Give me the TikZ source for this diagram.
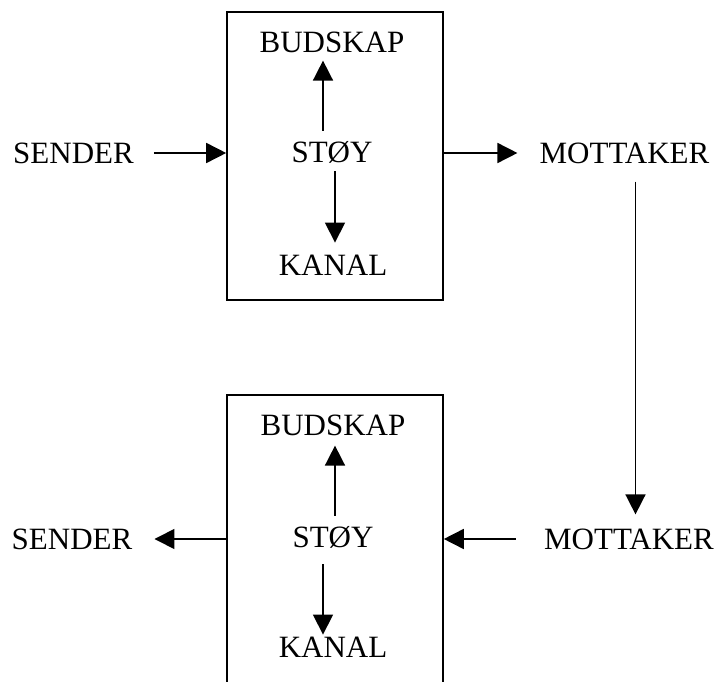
\documentclass[tikz,border=0pt]{standalone}
\usepackage{fontspec}
\setmainfont{Liberation Serif}
\usetikzlibrary{calc,arrows.meta}
\newcommand{\tekst}{\fontsize{31}{36}\selectfont}
\tikzset{
  pil/.style={-{Triangle[length=20pt,width=20pt]},line width=1.6pt},
  boks/.style={draw,line width=1.6pt,minimum width=216pt,minimum height=288pt,inner sep=0pt},
  ord/.style={inner sep=0pt,font=\tekst},
}

\begin{document}
\begin{tikzpicture}[x=1pt,y=-1pt]

    \useasboundingbox (0,0) rectangle (721,682);
    \clip (0,0) rectangle (721,682);

    \node[boks] (boksA) at (335,156) {};
    \node[ord] (budA) at (332,42) {BUDSKAP};
    \node[ord] (stoyA) at (332,152) {STØY};
    \node[ord] (kanA) at (333,265) {KANAL};
    \node[ord] (senderA) at (73.5,153) {SENDER};
    \node[ord] (motA) at (624.5,153) {MOTTAKER};

    \node[boks] (boksB) at (335,539) {};
    \node[ord] (budB) at (333,425) {BUDSKAP};
    \node[ord] (stoyB) at (333,537) {STØY};
    \node[ord] (kanB) at (333,647) {KANAL};
    \node[ord] (senderB) at (72,539) {SENDER};
    \node[ord] (motB) at (629,539) {MOTTAKER};

    \draw[pil,shorten <=20pt] (senderA.east) -- (senderA.east -| boksA.west);
    \draw[pil,shorten >=22pt] (boksA.east |- motA.west) -- (motA.west);
    \draw[pil,shorten <=10pt,shorten >=8pt] ([xshift=-9pt]stoyA.north) -- ([xshift=-9pt]stoyA.north |- budA.south);
    \draw[pil,shorten <=8pt,shorten >=12pt] ([xshift=3pt]stoyA.south) -- ([xshift=3pt]stoyA.south |- kanA.north);

    \draw[pil,shorten <=18pt,shorten >=14pt] ([xshift=11pt]motA.south) -- ([xshift=11pt]motA.south |- motB.north);

    \draw[pil,shorten <=28pt] (motB.west) -- (motB.west -| boksB.east);
    \draw[pil,shorten >=22pt] (boksB.west |- senderB.east) -- (senderB.east);
    \draw[pil,shorten <=10pt,shorten >=10pt] ([xshift=2pt]stoyB.north) -- ([xshift=2pt]stoyB.north |- budB.south);
    \draw[pil,shorten <=16pt,shorten >=2pt] ([xshift=-10pt]stoyB.south) -- ([xshift=-10pt]stoyB.south |- kanB.north);

\end{tikzpicture}
\end{document}
